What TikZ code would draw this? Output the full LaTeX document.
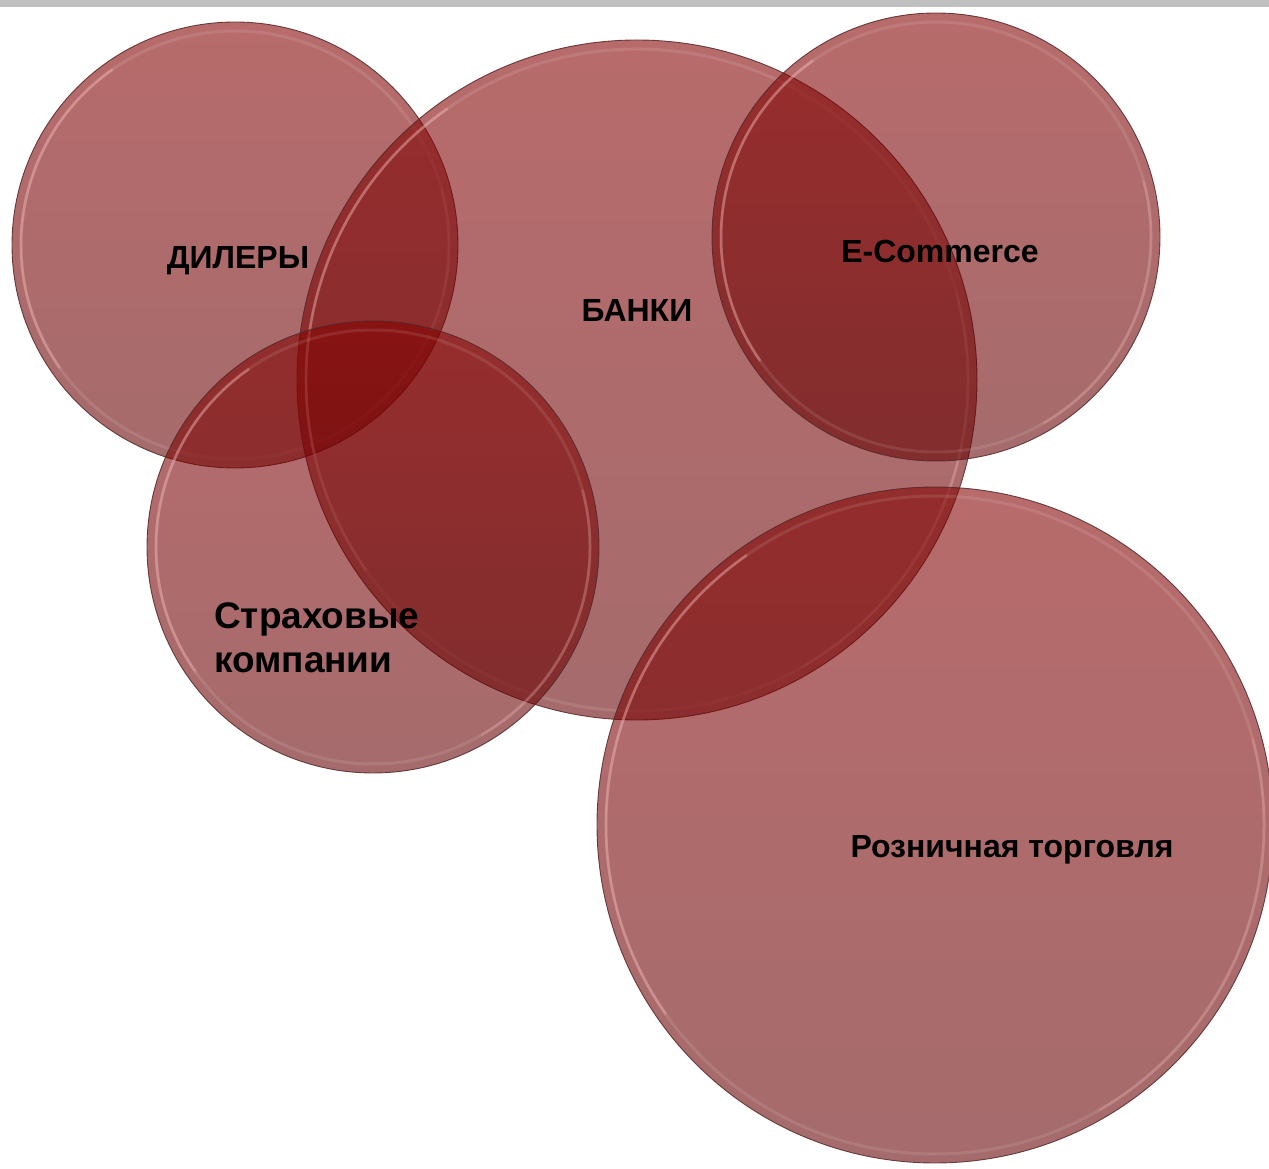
\documentclass[tikz,border=0pt]{standalone}
\usepackage{fontspec}
\setmainfont{Liberation Sans}
\definecolor{disktop}{RGB}{132,0,0}
\definecolor{diskbot}{RGB}{100,0,2}
\definecolor{rimline}{RGB}{85,40,40}
\definecolor{barcol}{RGB}{192,192,192}
\definecolor{glow}{RGB}{255,190,190}
\tikzset{
  disc/.style={top color=disktop, bottom color=diskbot, fill opacity=0.58,
               draw=rimline, draw opacity=0.85, line width=0.9pt},
  rim/.style={draw=white, draw opacity=0.1, line width=3pt},
  hl/.style={draw=glow, draw opacity=0.35, line width=2.5pt, line cap=round},
  lbl/.style={font=\bfseries\fontsize{32}{38}\selectfont, text=black, inner sep=0pt},
  biglbl/.style={font=\bfseries\fontsize{37}{44}\selectfont, text=black, inner sep=0pt, align=left}
}
\begin{document}
\begin{tikzpicture}[x=1pt,y=1pt]
\useasboundingbox (0,0) rectangle (1269,1168);
\fill[barcol] (0,1161) rectangle (1269,1168);
\coordinate (cdil) at (235,923);
\coordinate (cban) at (637,788);
\coordinate (ccom) at (936,931);
\coordinate (cins) at (373,621);
\coordinate (cret) at (935,343);
\begin{scope}
  \clip (0,0) rectangle (1269,1161);
  \foreach \c/\r in {cdil/223, cban/340, ccom/224, cins/226, cret/338}{
    \shadedraw[disc] (\c) circle[radius=\r];
    \draw[rim] (\c) circle[radius=\r-9];
    \draw[hl] (\c) ++(125:\r-9) arc[start angle=125, end angle=215, radius=\r-9];
    \draw[hl, draw opacity=0.2] (\c) ++(-60:\r-9) arc[start angle=-60, end angle=15, radius=\r-9];
  }
\end{scope}
\node[lbl] (tdil) at (238,907) {ДИЛЕРЫ};
\node[lbl] (tban) at (637,858) {БАНКИ};
\node[lbl] (tcom) at (940,917) {E-Commerce};
\node[biglbl, anchor=west] (tins) at (214,530) {Страховые\\компании};
\node[lbl] (tret) at (1012,318) {Розничная торговля};
\end{tikzpicture}
\end{document}
